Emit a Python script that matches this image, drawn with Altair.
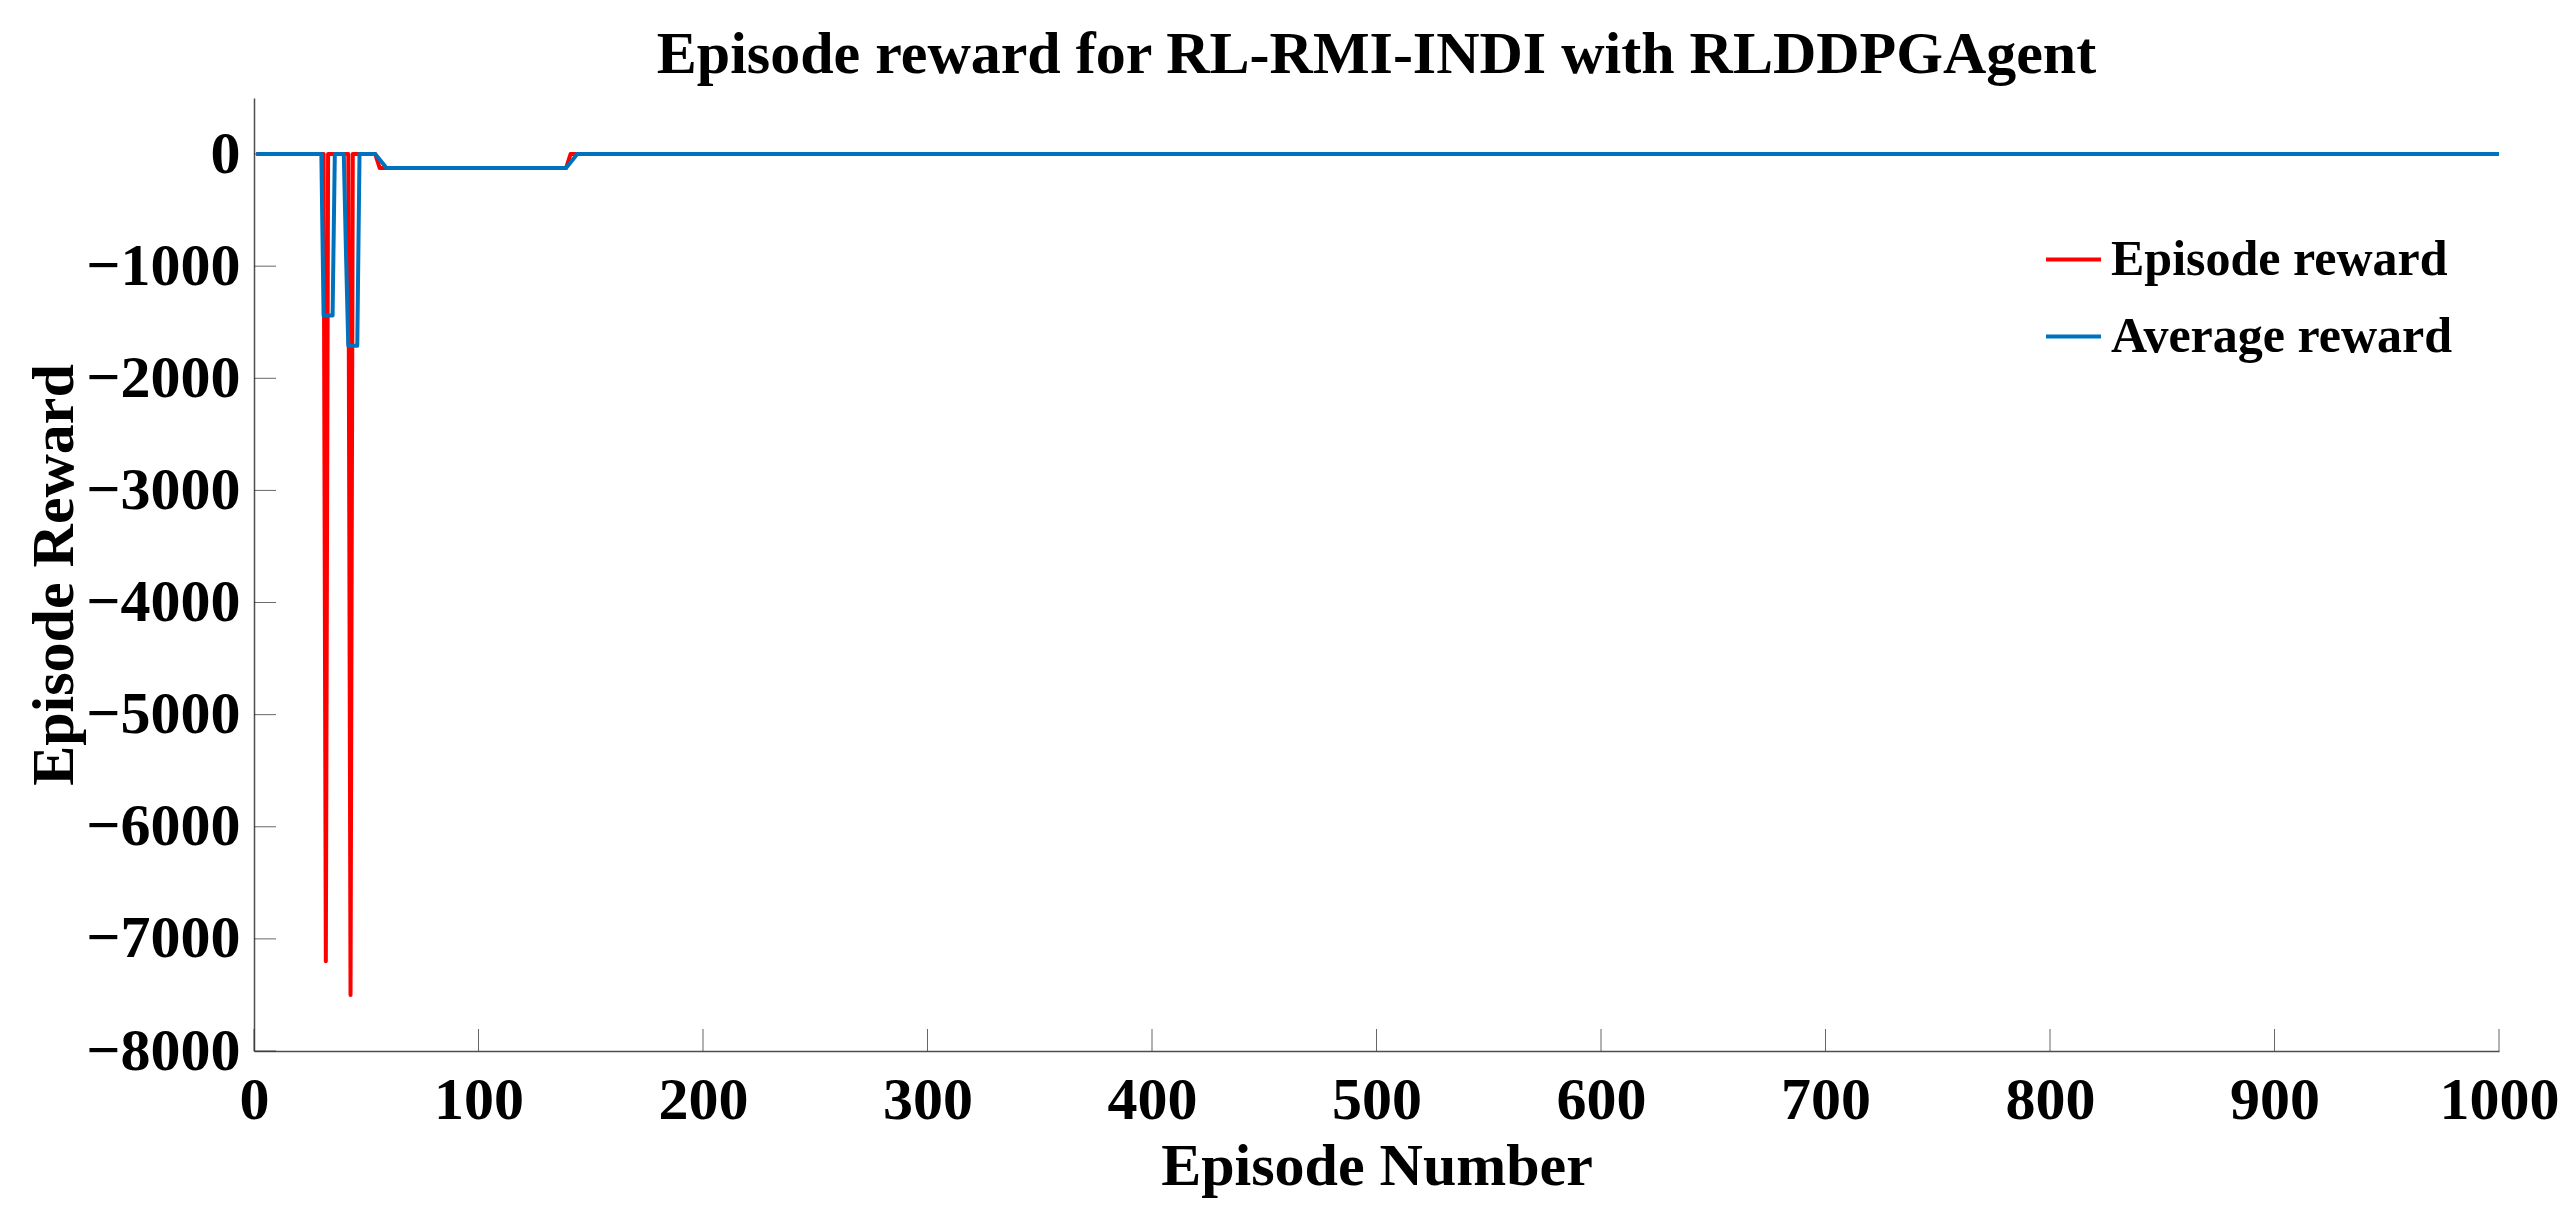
import altair as alt
import pandas as pd

# Episode reward (red) - breakpoints
red_episode = [1, 31, 32, 33, 42, 43, 44, 54, 56, 139, 141, 1000]
red_reward = [0, 0, -7200, 0, 0, -7500, 0, 0, -125, -125, 0, 0]

# Average reward (blue)
blue_episode = [1, 30, 31, 35, 36, 40, 41, 42, 46, 47, 54, 59, 139, 144, 1000]
blue_reward = [0, 0, -1440, -1440, 0, 0, -900, -1710, -1710, 0, 0, -125, -125, 0, 0]

series_names = ["Episode reward", "Average reward"]
series_colors = ["#FF0000", "#0072BD"]

x_ticks = [0, 100, 200, 300, 400, 500, 600, 700, 800, 900, 1000]
y_ticks = [-8000, -7000, -6000, -5000, -4000, -3000, -2000, -1000, 0]

W, H = 2245, 953
FONT = "Liberation Serif"

df = pd.concat([
    pd.DataFrame({"episode": red_episode, "reward": red_reward, "series": series_names[0]}),
    pd.DataFrame({"episode": blue_episode, "reward": blue_reward, "series": series_names[1]}),
])

xscale = alt.Scale(domain=[0, 1000], nice=False, zero=False)
yscale = alt.Scale(domain=[-8000, 500], nice=False, zero=False)

xaxis = alt.Axis(values=x_ticks, title="Episode Number", ticks=False, grid=False, format="d",
                 labelFlush=False, labelOverlap=False, labelBound=False,
                 labelFont=FONT, labelFontSize=60, labelFontWeight="bold", labelColor="black",
                 labelPadding=20, titleFont=FONT, titleFontSize=60, titleFontWeight="bold",
                 titleColor="black", titlePadding=7, domainColor="#4d4d4d", domainWidth=1.5)
yaxis = alt.Axis(values=y_ticks, title="Episode Reward", ticks=False, grid=False, format="d",
                 labelOverlap=False, labelBound=False,
                 labelFont=FONT, labelFontSize=60, labelFontWeight="bold", labelColor="black",
                 labelPadding=14, titleFont=FONT, titleFontSize=60, titleFontWeight="bold",
                 titleColor="black", titlePadding=0, domainColor="#4d4d4d", domainWidth=1.5)

color = alt.Color("series:N", scale=alt.Scale(domain=series_names, range=series_colors),
                  legend=alt.Legend(title=None, orient="none", legendX=1790, legendY=132,
                                    symbolType="stroke", symbolSize=3025, symbolStrokeWidth=4,
                                    labelFont=FONT, labelFontSize=50, labelFontWeight="bold",
                                    labelColor="black", labelOffset=8, rowPadding=22,
                                    labelLimit=600))

def line_layer(name):
    return alt.Chart(df).transform_filter(alt.datum.series == name).mark_line(
        strokeWidth=4, strokeJoin="round").encode(
        x=alt.X("episode:Q", scale=xscale, axis=xaxis),
        y=alt.Y("reward:Q", scale=yscale, axis=yaxis),
        color=color,
        order=alt.Order("episode:Q"),
    )

xt = alt.Chart(pd.DataFrame({"episode": x_ticks})).mark_tick(
    orient="vertical", thickness=1, color="#262626").encode(
    x=alt.X("episode:Q", scale=xscale, axis=xaxis),
    y=alt.value(H - 11), size=alt.value(22))

yt = alt.Chart(pd.DataFrame({"reward": y_ticks})).mark_tick(
    orient="horizontal", thickness=1, color="#262626").encode(
    y=alt.Y("reward:Q", scale=yscale, axis=yaxis),
    x=alt.value(11), size=alt.value(22))

chart = alt.layer(xt, yt, line_layer(series_names[0]), line_layer(series_names[1])).properties(
    width=W, height=H,
    title=alt.TitleParams("Episode reward for RL-RMI-INDI with RLDDPGAgent", font=FONT,
                          fontSize=60, fontWeight="bold", color="black", anchor="middle", offset=12),
    autosize=alt.AutoSizeParams(type="none"),
    padding={"left": 246, "top": 90, "right": 60, "bottom": 150},
    background="white",
).configure_view(stroke=None)

chart.save("out.html", embed_options={"renderer": "svg", "actions": False})
